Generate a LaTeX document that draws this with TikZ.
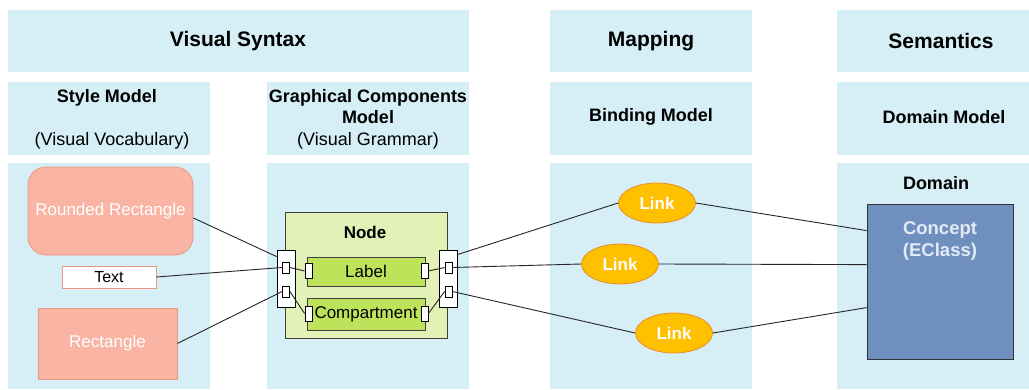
\documentclass[tikz,border=0pt]{standalone}
\usepackage{fontspec}
\setmainfont{Liberation Sans}
\usetikzlibrary{positioning,shapes.geometric}

\definecolor{panelblue}{RGB}{214,238,246}
\definecolor{salmon}{RGB}{249,180,164}
\definecolor{salmonline}{RGB}{236,150,130}
\definecolor{nodegreen}{RGB}{226,241,182}
\definecolor{partgreen}{RGB}{188,227,90}
\definecolor{linkfill}{RGB}{255,192,0}
\definecolor{linkline}{RGB}{232,140,40}
\definecolor{conceptfill}{RGB}{111,143,191}
\definecolor{concepttext}{RGB}{226,234,244}

\begin{document}
\begin{tikzpicture}[x=1pt,y=-1pt,line width=0.8pt,
	panel/.style={fill=panelblue},
	head/.style={font=\fontsize{21}{24}\selectfont\bfseries},
	sub/.style={font=\fontsize{18}{21}\selectfont\bfseries, align=center},
	subn/.style={font=\fontsize{18}{21}\selectfont},
	body/.style={font=\fontsize{17}{20}\selectfont},
	rrect/.style={body, draw=salmonline, fill=salmon, text=white, rounded corners=18pt, minimum width=165, minimum height=88, inner sep=0pt},
	srect/.style={body, draw=salmonline, fill=salmon, text=white, minimum width=139, minimum height=71, inner sep=0pt},
	txtbox/.style={font=\fontsize{16}{19}\selectfont, draw=salmonline, fill=white, minimum width=94, minimum height=22, inner sep=0pt},
	nodebox/.style={draw=black!75, fill=nodegreen, minimum width=162, minimum height=126, inner sep=0pt},
	partbox/.style={body, draw=black!75, fill=partgreen, minimum width=118, minimum height=29, inner sep=0pt},
	portcol/.style={draw=black, fill=white, minimum width=18, minimum height=57, inner sep=0pt},
	port/.style={draw=black, fill=white, minimum width=7, minimum height=11, inner sep=0pt},
	iport/.style={draw=black, fill=white, minimum width=7, minimum height=15, inner sep=0pt},
	link/.style={ellipse, font=\fontsize{17}{20}\selectfont\bfseries, draw=linkline, fill=linkfill, text=white, minimum width=77, minimum height=40, inner sep=0pt},
	concept/.style={draw=black!80, fill=conceptfill, minimum width=146, minimum height=155, inner sep=0pt},
	wire/.style={line width=0.9pt, black!85}]
\useasboundingbox (0,0) rectangle (1029,389);

% panels
\foreach \xa/\xb in {8/469,550/752,837/1029}
	\fill[panel] (\xa,10) rectangle (\xb,72);
\foreach \xa/\xb in {8/210,267/469,550/752,837/1029}{
	\fill[panel] (\xa,82) rectangle (\xb,155);
	\fill[panel] (\xa,163) rectangle (\xb,389);
}

% headers
\node[head] (vsyn) at (238,41) {Visual Syntax};
\node[head] (map) at (651,41) {Mapping};
\node[head] (sem) at (941,41) {Semantics};
\node[sub] (stylem) at (107,98) {Style Model};
\node[subn] (vocab) at (112,141) {(Visual Vocabulary)};
\node[sub] (gcm) at (368,107) {Graphical Components\\Model};
\node[subn] (gram) at (368,141) {(Visual Grammar)};
\node[sub] (bind) at (651,117) {Binding Model};
\node[sub] (dommod) at (944,117) {Domain Model};

% style model
\node[rrect] (rr) at (110.5,211) {Rounded Rectangle};
\node[txtbox] (txt) at (109,277) {Text};
\node[srect] (rect) at (107.5,343.5) {Rectangle};

% graphical components
\node[nodebox] (nd) at (366,275) {};
\node[font=\fontsize{17}{20}\selectfont\bfseries] (ndtitle) at (365,232) {Node};
\node[partbox] (lab) at (366,271.5) {Label};
\node[partbox, minimum height=32] (comp) at (366,314) {Compartment};
\node[portcol] (lcol) at (286,278.5) {};
\node[port] (lp1) at (286,267.5) {};
\node[port] (lp2) at (286,291.5) {};
\node[iport] (lbl) at (308.5,271) {};
\node[iport] (lbr) at (424.5,271) {};
\node[iport] (cpl) at (308.5,313.5) {};
\node[iport] (cpr) at (424.5,313.5) {};
\node[portcol] (rcol) at (448,278.5) {};
\node[port] (rp1) at (448.5,267.5) {};
\node[port] (rp2) at (448.5,291.5) {};

% binding model
\node[link] (lk1) at (657,203) {Link};
\node[link] (lk2) at (620,264) {Link};
\node[link] (lk3) at (674,333) {Link};

% domain model
\node[sub] (domain) at (936,183) {Domain};
\node[concept] (con) at (940,281.5) {};
\node[sub, font=\fontsize{18.5}{22}\selectfont\bfseries, text=concepttext, below=14pt of con.north] (conlbl) {Concept\\(EClass)};

% connectors
\draw[wire] ([yshift=-7pt]rr.east) -- ([yshift=-7pt]lcol.north west);
\draw[wire] (txt.east) -- (lp1.west);
\draw[wire] (rect.east) -- (lp2.west);
\draw[wire] (lp1.east) -- (lbl.west);
\draw[wire] (lp2.east) -- (cpl.west);
\draw[wire] (lbr.east) -- (rp1.west);
\draw[wire] (cpr.east) -- (rp2.west);
\draw[wire] ([yshift=-5pt]rcol.north east) -- (lk1.west);
\draw[wire] (rp1.east) -- (lk2.west);
\draw[wire] (rp2.east) -- (lk3.west);
\draw[wire] (lk1.east) -- ([yshift=-27pt]con.north west);
\draw[wire] (lk2.east) -- ([yshift=-61pt]con.north west);
\draw[wire] (lk3.east) -- ([yshift=-104pt]con.north west);
\end{tikzpicture}
\end{document}
